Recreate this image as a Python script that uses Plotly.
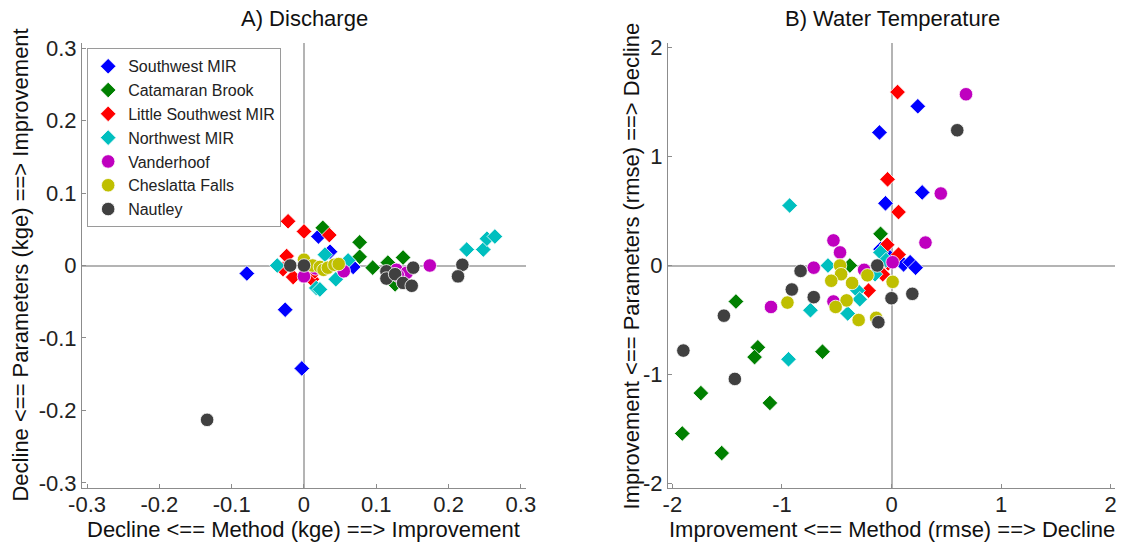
import plotly.graph_objects as go
from plotly.subplots import make_subplots

series_names = ["Southwest MIR", "Catamaran Brook", "Little Southwest MIR",
                "Northwest MIR", "Vanderhoof", "Cheslatta Falls", "Nautley"]
series_colors = ["#0000FF", "#008000", "#FF0000", "#00BFBF", "#BF00BF", "#BFBF00", "#404040"]
series_symbols = ["diamond", "diamond", "diamond", "diamond", "circle", "circle", "circle"]

# Panel A: Discharge (kge)
a_sw_x = [-0.079, -0.026, -0.003, 0.020, 0.036, 0.068]
a_sw_y = [-0.011, -0.061, -0.142, 0.040, 0.019, -0.002]
a_cb_x = [0.026, 0.077, 0.077, 0.095, 0.116, 0.137, 0.126]
a_cb_y = [0.052, 0.032, 0.012, -0.003, 0.004, 0.011, -0.026]
a_lsw_x = [-0.022, 0.000, 0.035, -0.024, -0.029, -0.015, 0.011, 0.015]
a_lsw_y = [0.061, 0.047, 0.042, 0.013, -0.005, -0.016, -0.019, -0.008]
a_nw_x = [-0.037, 0.029, 0.061, 0.044, 0.017, 0.022, 0.225, 0.248, 0.253, 0.264]
a_nw_y = [0.000, 0.015, 0.007, -0.019, -0.031, -0.033, 0.022, 0.022, 0.037, 0.040]
a_va_x = [0.000, 0.016, 0.055, 0.128, 0.142, 0.130, 0.174]
a_va_y = [-0.015, -0.004, -0.008, -0.006, -0.010, -0.014, 0.000]
a_cf_x = [0.000, 0.012, 0.022, 0.027, 0.033, 0.042, 0.048]
a_cf_y = [0.008, 0.000, -0.002, -0.006, -0.003, 0.001, 0.002]
a_na_x = [-0.134, -0.019, 0.000, 0.114, 0.114, 0.126, 0.151, 0.137, 0.149, 0.219, 0.213]
a_na_y = [-0.213, 0.000, 0.000, -0.008, -0.018, -0.012, -0.003, -0.024, -0.028, 0.001, -0.015]

# Panel B: Water Temperature (rmse)
b_sw_x = [0.24, -0.11, 0.28, -0.055, -0.10, 0.11, 0.17, 0.22, -0.02]
b_sw_y = [1.46, 1.22, 0.67, 0.57, 0.15, 0.01, 0.03, -0.02, 0.08]
b_cb_x = [-0.10, -0.38, -1.42, -1.22, -1.25, -0.63, -1.74, -1.11, -1.91, -1.55]
b_cb_y = [0.29, 0.00, -0.33, -0.75, -0.84, -0.79, -1.17, -1.26, -1.54, -1.72]
b_lsw_x = [0.055, -0.036, 0.064, -0.04, 0.064, -0.21, -0.08, -0.03]
b_lsw_y = [1.59, 0.79, 0.49, 0.19, 0.10, -0.23, -0.08, 0.02]
b_nw_x = [-0.93, -0.10, -0.58, -0.31, -0.29, -0.40, -0.74, -0.15, -0.94, -0.05]
b_nw_y = [0.55, 0.12, 0.00, -0.23, -0.31, -0.44, -0.41, -0.08, -0.86, 0.05]
b_va_x = [0.68, 0.45, 0.31, -0.53, -0.47, 0.01, -0.71, -0.25, -0.53, -1.10]
b_va_y = [1.57, 0.66, 0.21, 0.23, 0.12, 0.03, -0.02, -0.04, -0.33, -0.38]
b_cf_x = [-0.47, -0.46, -0.55, -0.36, -0.22, 0.01, -0.41, -0.51, -0.30, -0.14, -0.95]
b_cf_y = [0.00, -0.08, -0.14, -0.16, -0.09, -0.15, -0.32, -0.38, -0.50, -0.48, -0.34]
b_na_x = [0.60, -0.13, -0.83, -0.91, -0.71, 0.00, 0.19, -0.12, -1.53, -1.90, -1.43]
b_na_y = [1.24, 0.00, -0.05, -0.22, -0.29, -0.30, -0.26, -0.52, -0.46, -0.78, -1.04]

a_data = [(a_sw_x, a_sw_y), (a_cb_x, a_cb_y), (a_lsw_x, a_lsw_y), (a_nw_x, a_nw_y),
          (a_va_x, a_va_y), (a_cf_x, a_cf_y), (a_na_x, a_na_y)]
b_data = [(b_sw_x, b_sw_y), (b_cb_x, b_cb_y), (b_lsw_x, b_lsw_y), (b_nw_x, b_nw_y),
          (b_va_x, b_va_y), (b_cf_x, b_cf_y), (b_na_x, b_na_y)]

a_ticks = [-0.3, -0.2, -0.1, 0, 0.1, 0.2, 0.3]
a_ticktext = ["-0.3", "-0.2", "-0.1", "0", "0.1", "0.2", "0.3"]
b_ticks = [-2, -1, 0, 1, 2]
b_ticktext = ["-2", "-1", "0", "1", "2"]

titles = ["A) Discharge", "B) Water Temperature"]
x_titles = ["Decline <== Method (kge) ==> Improvement", "Improvement <== Method (rmse) ==> Decline"]
y_titles = ["Decline <== Parameters (kge) ==> Improvement", "Improvement <== Parameters (rmse) ==> Decline"]

FONT = "Liberation Sans, Arial, sans-serif"
TFONT = dict(size=22, color="#111", family=FONT)

fig = make_subplots(rows=1, cols=2, subplot_titles=titles, horizontal_spacing=0.1374)

for i, name in enumerate(series_names):
    msize = 12 if series_symbols[i] == "diamond" else 13.5
    marker = dict(color=series_colors[i], symbol=series_symbols[i], size=msize,
                  line=dict(color="white", width=0.8))
    fig.add_trace(go.Scatter(x=a_data[i][0], y=a_data[i][1], mode="markers", name=name,
                             marker=marker, legendgroup=name), row=1, col=1)
    fig.add_trace(go.Scatter(x=b_data[i][0], y=b_data[i][1], mode="markers", name=name,
                             marker=marker, legendgroup=name, showlegend=False), row=1, col=2)

axis_common = dict(showgrid=False, zeroline=True, zerolinecolor="#b4b4b4", zerolinewidth=2,
                   showline=True, linecolor="#8c8c8c", linewidth=1, ticks="inside",
                   ticklen=4, tickcolor="#8c8c8c", tickfont=dict(size=22, color="#222", family=FONT),
                   automargin=False, tickmode="array")

fig.update_xaxes(axis_common)
fig.update_yaxes(axis_common)
fig.update_xaxes(ticklabelstandoff=-3)

fig.update_xaxes(range=[-0.307, 0.307], tickvals=a_ticks, ticktext=a_ticktext,
                 domain=[0, 0.4298], row=1, col=1)
fig.update_yaxes(range=[-0.307, 0.307], tickvals=a_ticks, ticktext=a_ticktext, row=1, col=1)
fig.update_xaxes(range=[-2.04, 2.04], tickvals=b_ticks, ticktext=b_ticktext,
                 domain=[0.5673, 1], row=1, col=2)
fig.update_yaxes(range=[-2.04, 2.04], tickvals=b_ticks, ticktext=b_ticktext, row=1, col=2)

for ann in fig.layout.annotations:
    ann.font = TFONT
    ann.yshift = 10

for xc, txt in zip([0.4298 / 2, (0.5673 + 1) / 2], x_titles):
    fig.add_annotation(x=xc, y=0, xref="paper", yref="paper", text=txt, showarrow=False,
                       xanchor="center", yanchor="middle", yshift=-41, font=TFONT)

for xp, txt in zip([-0.0600, 0.5324], y_titles):
    fig.add_annotation(x=xp, y=0.5, xref="paper", yref="paper", text=txt, showarrow=False,
                       textangle=-90, xanchor="center", yanchor="middle", font=TFONT)

fig.update_layout(
    width=1129, height=544,
    margin=dict(l=82, r=14, t=43, b=56),
    paper_bgcolor="white", plot_bgcolor="white",
    font=dict(family=FONT, color="#222"),
    legend=dict(x=0.005, y=0.988, xanchor="left", yanchor="top",
                bordercolor="#9a9a9a", borderwidth=1, bgcolor="white",
                font=dict(size=16, color="#222", family=FONT), tracegroupgap=0),
    showlegend=True,
)

fig.write_html("out.html")
